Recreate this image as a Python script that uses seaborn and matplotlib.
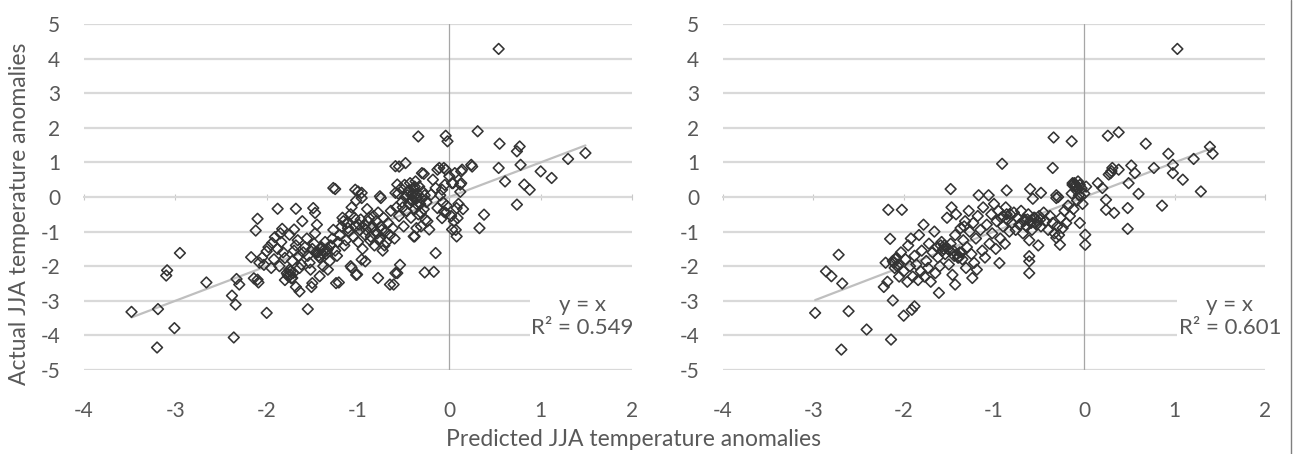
import matplotlib
matplotlib.use("Agg")
import matplotlib.pyplot as plt
import seaborn as sns
import pandas as pd
from matplotlib.lines import Line2D

# ---------------- data ----------------
left_x = [0.54, -3.48, -3.19, -3.20, -3.01, -2.95, -3.09, -3.10, -2.66, -2.36, -2.38, -2.34, -2.33, -2.30,
          -2.00, -1.55, -2.10, -2.12, -1.88, -1.68, -2.17, -2.10, -2.03, -2.09, -2.00, -1.94, -1.91, -1.83,
          -1.75, -1.70, -1.65, -1.68, -1.64, -1.74, -1.72, -1.80, -1.61, -1.49, -1.47, -1.50, -1.51, -1.42,
          -1.38, -1.33, -1.25, -1.21, -1.08, -1.01, -1.00, -0.96, -0.92, -0.78, -0.75, -0.61, -0.57, -0.59,
          -0.48, -0.34, -0.28, -0.38, -0.36, -0.27, -0.17, -0.15, -0.04, -0.02, -0.13, -0.04, 0.06, 0.14,
          0.24, 0.31, 0.03, 0.12, 0.03, 0.08, 0.33, 0.38, 0.55, 0.54, 0.61, 0.74, 0.77, 0.78, 0.82, 0.88,
          0.74, 1.00, 1.12, 1.30, 1.49, -0.08, -0.15, -0.18, -0.13, -0.08, -0.04, 0.08, -0.20, -0.31, -0.24,
          -0.22, 0.25, 0.13, 0.13, 0.04, -0.11, -0.06, -0.30, -0.55, -0.57, -0.59, -0.06, 0.09, 0.07, -0.26,
          -0.31, -0.39, -0.54, -0.65, -0.59, -0.96, -1.02, -1.07, -1.24, -0.76, -0.96, -1.03, -1.27,
          -1.78, -1.76, -1.74, -1.72, -1.70, -1.68, -1.66, -1.64, -1.62, -1.60, -1.58, -1.56, -1.55, -1.53,
          -1.52, -1.50, -1.48, -1.47, -1.45, -1.44, -1.42, -1.40, -1.38, -1.36, -1.35, -1.33, -1.31, -1.30,
          -1.28, -1.27, -1.25, -1.23, -1.22, -1.20, -1.18, -1.17, -1.15, -1.13, -1.12, -1.10, -1.08, -1.07,
          -1.05, -1.03, -1.02, -1.00, -0.98, -0.97, -0.95, -0.93, -0.92, -0.90, -0.88, -0.87, -0.85, -0.83,
          -0.82, -0.80, -0.79, -0.78, -0.76, -0.75, -0.73, -0.72, -0.70, -0.69, -0.67, -0.65, -0.64, -0.62,
          -0.60, -2.05, -1.98, -1.95, -1.92, -1.88, -1.86, -1.84, -1.82, -1.80, -1.85, -2.08, -2.14,
          -0.58, -0.56, -0.55, -0.53, -0.52, -0.50, -0.49, -0.48, -0.47, -0.45, -0.44, -0.43, -0.42, -0.41,
          -0.40, -0.39, -0.38, -0.37, -0.36, -0.35, -0.34, -0.33, -0.32, -0.30, -0.29, -0.28, -0.27, -0.25,
          -0.10, -0.07, -0.05, -0.03, 0.00, 0.02, 0.05, 0.10, 0.12, 0.15,
          -1.77, -1.75, -1.73, -1.71, -1.46, -1.43, -1.41, -1.39, -1.34, -0.91, -0.89, -0.86, -0.84, -0.81,
          -0.77, -0.74, -0.71, -0.46, -0.44, -0.42, -0.40, -0.38, -0.36, -0.51, -1.16, -1.11, -1.04, -0.99]
left_y = [4.28, -3.32, -3.24, -4.35, -3.79, -1.62, -2.12, -2.27, -2.47, -4.06, -2.85, -3.11, -2.37, -2.53,
          -3.35, -3.24, -0.63, -0.97, -0.34, -0.34, -1.74, -2.39, -1.96, -2.47, -1.57, -1.33, -1.16, -0.92,
          -1.09, -0.94, -1.70, -2.60, -2.73, -2.24, -2.34, -1.76, -0.70, -0.32, -0.46, -2.49, -2.60, -2.29,
          -2.00, -2.10, 0.23, -2.47, -2.00, -2.24, 0.16, -0.03, -1.86, -2.34, -0.03, -2.53, -2.20, 0.89,
          0.98, 1.75, 0.67, -1.14, -0.90, -2.18, -2.16, -1.62, 1.77, 1.61, 0.79, 0.79, 0.69, 0.79,
          0.93, 1.90, 0.40, 0.36, -0.94, -1.14, -0.90, -0.51, 1.54, 0.84, 0.45, 1.32, 1.46, 0.93, 0.36, 0.21,
          -0.22, 0.74, 0.55, 1.10, 1.27, 0.21, 0.26, 0.50, -0.32, -0.61, -0.46, -0.32, 0.07, -0.46, -0.70,
          -0.94, 0.88, 0.74, 0.40, 0.40, 0.84, 0.84, 0.69, 0.88, 0.36, 0.12, -0.42, -0.61, -0.95, -0.66,
          -0.85, -1.14, -1.96, -2.53, -2.20, -1.81, -2.25, -2.05, -2.49, 0.02, 0.12, 0.21, 0.26,
          -2.20, -2.30, -2.15, -1.85, -1.55, -1.40, -1.25, -2.05, -1.95, -1.60, -1.45, -1.20, -1.70, -1.90,
          -2.10, -1.50, -1.35, -1.05, -0.80, -1.60, -1.75, -1.45, -1.55, -1.30, -1.65, -1.50, -1.85, -1.40,
          -1.20, -0.95, -1.55, -1.70, -1.30, -1.10, -0.85, -0.60, -1.40, -1.25, -0.75, -1.00, -0.50, -0.30,
          -1.15, -0.85, -0.10, -1.30, -0.95, -0.65, -1.50, -0.80, -1.10, -0.35, -0.60, -1.25, -0.90, -0.55,
          -1.40, -0.70, -1.05, -0.45, -1.20, -0.85, -1.55, -0.60, -1.00, -1.30, -0.75, -1.10, -0.40, -0.90,
          -1.20, -1.75, -1.45, -2.05, -1.80, -1.50, -2.00, -1.30, -1.60, -2.40, -1.05, -1.90, -2.35,
          -0.30, 0.10, -0.55, 0.25, -0.15, -0.85, 0.35, 0.00, -0.40, 0.15, -0.20, 0.40, -0.60, 0.05,
          -0.10, 0.25, -0.35, 0.45, -0.05, 0.10, -0.50, 0.30, -0.20, -0.05, 0.15, -0.35, 0.05, -0.15,
          0.05, -0.15, 0.35, -0.25, 0.60, -0.55, -0.70, -0.20, 0.15, -0.35,
          -2.25, -2.10, -2.35, -2.20, -1.60, -1.70, -1.50, -1.65, -1.55, -0.95, -0.70, -1.15, -0.85, -1.00,
          -1.25, -0.95, -1.40, 0.05, 0.20, -0.10, 0.10, 0.30, -0.20, -0.30, -0.70, -0.90, -0.60, -0.80]

right_x = [1.03, -2.98, -2.72, -2.86, -2.80, -2.68, -2.61, -2.69, -2.41, -2.14, -2.12, -2.00, -1.91, -1.88,
           -2.17, -2.02, -2.15, -0.91, -0.86, -1.48, -0.34, -0.14, -0.35, 0.26, 0.38, 0.68, 0.93, 0.98,
           0.98, 1.09, 0.77, 1.21, 1.39, 1.42, 1.29, 0.86, 0.48, 0.48, 0.60, 0.52, 0.56, 0.33, 0.24, 0.24,
           0.15, 0.20, 0.29, 0.31, 0.38, 0.49, 0.01, 0.01, -0.61, -0.61, -0.61, -0.94, -1.24, -1.19, -1.61,
           -1.43, -0.27, -0.31, -0.48, -0.60, -0.31, -0.13, -0.11, -0.04, -2.20, -2.18, -2.22,
           -2.12, -2.10, -2.08, -2.06, -2.05, -2.03, -2.00, -1.98, -1.96, -1.95, -1.93, -1.92, -1.90, -1.88,
           -1.86, -1.84, -1.83, -1.81, -1.80, -1.78, -1.77, -1.75, -1.73, -1.72, -1.70, -1.68, -1.66, -1.65,
           -1.63, -1.62, -1.60, -1.58, -1.57, -1.55, -1.54, -1.52, -1.51, -1.50, -1.48, -1.47, -1.46, -1.45,
           -1.43, -1.42, -1.40, -1.38, -1.37, -1.35, -1.34, -1.32, -1.31, -1.30, -1.28, -1.27, -1.25, -1.23,
           -1.22, -1.20, -1.18, -1.17, -1.15, -1.13, -1.12, -1.10, -1.08, -1.06, -1.05, -1.03, -1.02, -1.00,
           -0.98, -0.97, -0.95, -0.93, -0.92, -0.90, -0.88, -0.87, -0.85, -0.83, -0.82, -0.80, -0.78, -0.76,
           -0.74, -0.72, -0.70, -0.68, -0.66, -0.64, -0.62, -0.61, -0.60, -0.58, -0.57, -0.55, -0.53, -0.51,
           -0.50, -0.48, -0.45, -0.43, -0.40, -0.38, -0.35, -0.33, -0.31, -0.30, -0.28, -0.26, -0.24, -0.22,
           -0.20, -0.18, -0.16, -0.14, -0.12, -0.10, -0.09, -0.08, -0.07, -0.06, -0.05, -0.03, -0.02, 0.00,
           0.02,
           -2.11, -2.09, -2.07, -1.59, -1.56, -1.53, -1.49, -1.44, -1.41, -1.39, -1.36, -1.33, -0.67, -0.63,
           -0.59, -0.56, -0.52, -0.49, -0.13, -0.11, -0.09, -0.07, -0.05, -0.90, -0.86, -0.29, 0.27, 0.30]
right_y = [4.28, -3.35, -1.67, -2.15, -2.29, -2.50, -3.30, -4.41, -3.83, -4.12, -2.99, -3.43, -3.26, -3.16,
           -0.37, -0.37, -1.21, 0.96, 0.19, 0.23, 1.72, 1.61, 0.84, 1.77, 1.87, 1.54, 1.25, 0.93,
           0.69, 0.50, 0.84, 1.10, 1.45, 1.25, 0.16, -0.25, -0.92, -0.32, 0.09, 0.91, 0.69, -0.46, -0.08, -0.37,
           0.40, 0.26, 0.69, 0.84, 0.79, 0.40, -1.09, -1.38, -2.20, -1.71, -1.86, -1.91, -2.34, -2.10, -2.77,
           -2.53, -1.38, -1.18, 0.12, 0.23, -0.03, 0.40, 0.31, 0.02, -1.90, -2.45, -2.60,
           -1.85, -2.05, -1.75, -1.95, -2.30, -1.60, -2.15, -1.80, -2.45, -1.40, -2.00, -1.20, -2.30, -1.70,
           -1.95, -2.40, -1.10, -2.15, -1.55, -0.80, -2.30, -1.85, -2.05, -1.35, -2.45, -1.60, -1.00, -2.20,
           -1.45, -1.75, -2.00, -1.30, -1.55, -1.40, -1.65, -0.60, -1.50, -1.95, -1.35, -0.30, -2.25, -1.55,
           -1.10, -0.50, -1.75, -1.60, -0.90, -1.80, -1.25, -0.70, -2.05, -1.45, -0.40, -1.00, -1.65, -0.75,
           -1.90, -1.20, -0.55, 0.05, -0.95, -1.55, -0.30, -1.75, -0.80, 0.05, -1.35, -0.50, -1.05, -0.20,
           -1.50, -0.70, -0.40, -1.20, -0.60, -0.85, -1.35, -0.30, -0.65, -1.00, -0.50, -0.75, -0.45, -0.95,
           -0.60, -0.80, -0.40, -1.05, -0.65, -0.85, -0.50, -1.25, -0.70, -0.95, -0.05, -0.60, -0.80, -1.40,
           -0.55, -0.85, -0.45, -0.70, -0.95, -0.55, -0.75, -1.05, 0.05, -0.85, -1.10, -0.60, -0.90, -0.40,
           -0.75, -0.25, -0.55, 0.10, -0.35, 0.35, 0.20, -0.10, 0.45, 0.05, -0.75, 0.25, -0.20, 0.10,
           0.30,
           -1.90, -1.80, -2.00, -1.40, -1.50, -1.45, -1.55, -1.70, -1.65, -1.75, -1.60, -0.85, -0.70, -0.65,
           -0.75, -0.60, -0.70, -0.65, 0.35, 0.40, 0.30, 0.25, 0.35, -0.55, -0.50, 0.00, 0.65, 0.75]

panel_r2 = ["0.549", "0.601"]
x_ticks = [-4, -3, -2, -1, 0, 1, 2]
y_ticks = [-5, -4, -3, -2, -1, 0, 1, 2, 3, 4, 5]
x_label = "Predicted JJA temperature anomalies"
y_label = "Actual JJA temperature anomalies"

# ---------------- style ----------------
sns.set_theme(style="white")
plt.rcParams["font.family"] = ["Lato", "DejaVu Sans"]
TXT = "#595959"
GRID = "#d9d9d9"

fig = plt.figure(figsize=(12.94, 4.54), dpi=100)
ax_l = fig.add_axes([84 / 1294, 1 - 370 / 454, 548 / 1294, 346 / 454])
ax_r = fig.add_axes([723 / 1294, 1 - 370 / 454, 542 / 1294, 346 / 454])

panels = [(ax_l, left_x, left_y, panel_r2[0], 1.46),
          (ax_r, right_x, right_y, panel_r2[1], 1.61)]

for ax, xs, ys, r2, tx in panels:
    df = pd.DataFrame({"pred": xs, "act": ys})
    ax.set_xlim(-4, 2)
    ax.set_ylim(-5, 5)
    ax.set_xticks(x_ticks)
    ax.set_yticks(y_ticks)
    ax.set_xticklabels([str(v) for v in x_ticks])
    ax.set_yticklabels([str(v) for v in y_ticks])
    ax.yaxis.grid(True, color=GRID, lw=1.6, zorder=0)
    ax.xaxis.grid(False)
    for s in ax.spines.values():
        s.set_visible(False)
    ax.tick_params(axis="x", length=0, pad=22, labelsize=15, labelcolor=TXT)
    ax.tick_params(axis="y", length=0, pad=17, labelsize=15, labelcolor=TXT)
    ax.axvline(0, color="#a6a6a6", lw=0.9, zorder=1)
    sec = ax.secondary_xaxis(0.5)
    sec.set_xticks(x_ticks)
    sec.set_xticklabels([])
    sec.tick_params(direction="inout", length=5, color="#c8c8c8", width=0.8,
                    labelbottom=False, labeltop=False)
    for k in sec.spines:
        sec.spines[k].set_color("#c8c8c8")
        sec.spines[k].set_linewidth(1.2)

    sns.scatterplot(data=df, x="pred", y="act", ax=ax, marker="D", s=30,
                    facecolors="none", edgecolor="#333333", linewidth=1.15, zorder=3)
    lo, hi = df["pred"].min(), df["pred"].max()
    ax.plot([lo, hi], [lo, hi], color="#bfbfbf", lw=1.6, zorder=2)
    ax.set_xlabel("")
    ax.set_ylabel("")
    ax.text(tx, -3.45, "y = x\nR\u00b2 = " + r2, ha="center", va="center", fontsize=16,
            color=TXT, linespacing=1.15, zorder=4,
            bbox=dict(facecolor="white", edgecolor="none", pad=1))

fig.text(20 / 1294, 1 - 214 / 454, y_label, rotation=90, ha="center", va="center",
         fontsize=16.5, color=TXT)
fig.text(634 / 1294, 1 - 440 / 454, x_label, ha="center", va="center",
         fontsize=16.5, color=TXT)
fig.add_artist(Line2D([0.9975, 0.9975], [0, 1], transform=fig.transFigure, color="#7f7f7f", lw=1))

fig.savefig("out.png", dpi=100, facecolor="white")
